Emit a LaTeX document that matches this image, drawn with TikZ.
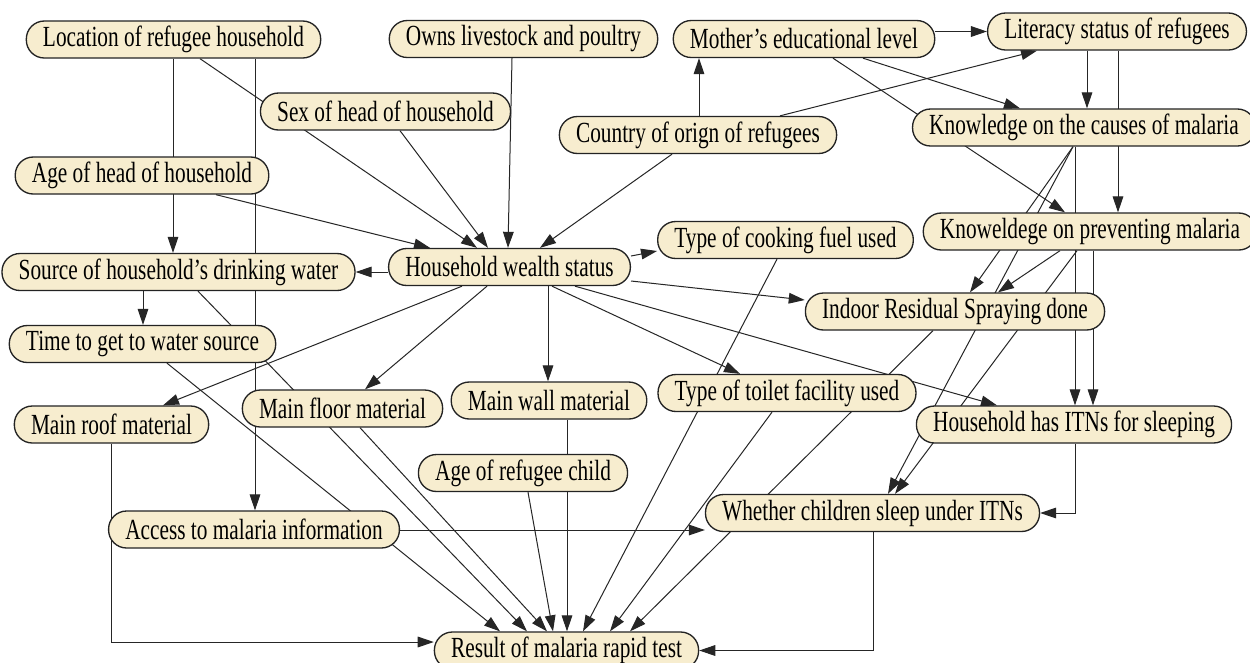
\documentclass[tikz,border=0pt]{standalone}
\usepackage{fontspec}
\setmainfont{Liberation Serif}[FakeStretch=0.73]
\usepackage{tikz}
\usetikzlibrary{arrows.meta,backgrounds}
\definecolor{varfill}{RGB}{247,237,207}
\definecolor{varline}{RGB}{35,35,35}

\begin{document}
\begin{tikzpicture}[x=0.75pt,y=0.75pt,yscale=-1,
    var/.style={draw=varline,fill=varfill,line width=1pt,rounded corners=13.5pt,
        minimum height=27.75pt,inner xsep=12.5pt,inner ysep=0pt,
        font=\fontsize{21.9}{24}\selectfont},
    arr/.style={-{Triangle[length=12pt,width=8pt]},line width=0.75pt,draw=black!85}]

    \useasboundingbox (0,0) rectangle (1250,662);

    % variables
    \node [var] (loc) at (173.5,39.5) {Location of refugee household};
    \node [var] (own) at (523.5,39) {Owns livestock and poultry};
    \node [var] (mot) at (804,39) {Mother's educational level};
    \node [var] (lit) at (1117,31.5) {Literacy status of refugees};
    \node [var] (sex) at (385.5,111.5) {Sex of head of household};
    \node [var] (cou) at (698,135) {Country of orign of refugees};
    \node [var] (kca) at (1084,127.5) {Knowledge on the causes of malaria};
    \node [var] (age) at (142,175.5) {Age of head of household};
    \node [var] (kpr) at (1090,231.5) {Knoweldege on preventing malaria};
    \node [var] (fue) at (785.5,240) {Type of cooking fuel used};
    \node [var] (src) at (178.5,272) {Source of household's drinking water};
    \node [var] (wea) at (509.5,267) {Household wealth status};
    \node [var] (irs) at (955,311.5) {Indoor Residual Spraying done};
    \node [var] (tim) at (142.5,344) {Time to get to water source};
    \node [var] (rof) at (111.5,424.5) {Main roof material};
    \node [var] (flo) at (342.5,408.5) {Main floor material};
    \node [var] (wal) at (549,400.5) {Main wall material};
    \node [var] (toi) at (787,393) {Type of toilet facility used};
    \node [var] (itn) at (1074,424.5) {Household has ITNs for sleeping};
    \node [var] (agc) at (523,473) {Age of refugee child};
    \node [var] (acc) at (254,529.5) {Access to malaria information};
    \node [var] (wch) at (872.5,513) {Whether children sleep under ITNs};
    \node [var] (res) at (566.5,650.5) {Result of malaria rapid test};

    \begin{pgfonlayer}{background}
    \fill [white] (0,0) rectangle (1250,662);

    % links (drawn behind the variables)
    \draw [arr] (loc.south -| 173,0) -- (src.north -| 173,0);
    \draw [arr] (loc.south -| 255,0) -- (acc.north -| 255,0);
    \draw [arr] (loc.south -| 200,0) -- (wea.north -| 477,0);
    \draw [arr] (age.south -| 216,0) -- (wea.north -| 430,0);
    \draw [arr] (sex.south -| 400,0) -- (wea.north -| 488,0);
    \draw [arr] (own.south -| 512,0) -- (wea.north -| 508,0);
    \draw [arr] (cou.south -| 672,0) -- (wea.north -| 540,0);
    \draw [arr] (cou.north -| 699,0) -- (mot.south -| 699,0);
    \draw [arr] (cou.north -| 780,0) -- (lit.south -| 1037,0);
    \draw [arr] (mot.east |- lit.west) -- (lit.west);
    \draw [arr] (mot.south -| 863,0) -- (kca.north -| 1020,0);
    \draw [arr] (mot.south -| 833,0) -- (kpr.north -| 1065,0);
    \draw [arr] (lit.south -| 1087,0) -- (kca.north -| 1087,0);
    \draw [arr] (lit.south -| 1118,0) -- (kpr.north -| 1118,0);
    \draw [arr] (kca.south -| 1073,0) -- (irs.north -| 970,0);
    \draw [arr] (kca.south -| 1073,0) -- (wch.north -| 888,0);
    \draw [arr] (kca.south -| 1075,0) -- (itn.north -| 1075,0);
    \draw [arr] (kpr.south -| 1060,0) -- (irs.north -| 998,0);
    \draw [arr] (kpr.south -| 1077,0) -- (wch.north -| 895,0);
    \draw [arr] (kpr.south -| 1093,0) -- (itn.north -| 1093,0);
    \draw [arr] (wea.west |- src.east) -- (src.east);
    \draw [arr] (wea.east |- 0,256) -- (fue.west |- 0,251);
    \draw [arr] (wea.east |- 0,281) -- (irs.west |- 0,300);
    \draw [arr] (wea.south -| 462,0) -- (rof.north -| 163,0);
    \draw [arr] (wea.south -| 487,0) -- (flo.north -| 365,0);
    \draw [arr] (wea.south -| 548,0) -- (wal.north -| 548,0);
    \draw [arr] (wea.south -| 552,0) -- (toi.north -| 740,0);
    \draw [arr] (wea.south -| 575,0) -- (itn.north -| 997,0);
    \draw [arr] (src.south -| 143,0) -- (tim.north -| 143,0);
    \draw [arr] (src.south -| 198,0) -- (res.north -| 527,0);
    \draw [arr] (tim.south -| 167,0) -- (res.north -| 500,0);
    \draw [arr] (flo.south -| 360,0) -- (res.north -| 547,0);
    \draw [arr] (wal.south -| 567,0) -- (res.north -| 567,0);
    \draw [arr] (agc.south -| 528,0) -- (res.north -| 553,0);
    \draw [arr] (fue.south -| 777,0) -- (res.north -| 583,0);
    \draw [arr] (toi.south -| 772,0) -- (res.north -| 610,0);
    \draw [arr] (irs.south -| 933,0) -- (res.north -| 630,0);
    \draw [arr] (rof.south) |- (res.west |- 0,642);
    \draw [arr] (acc.east |- 0,530) -- (wch.west |- 0,530);
    \draw [arr] (wch.south -| 873,0) |- (res.east);
    \draw [arr] (itn.south -| 1075,0) |- (wch.east);
    \end{pgfonlayer}
\end{tikzpicture}
\end{document}
